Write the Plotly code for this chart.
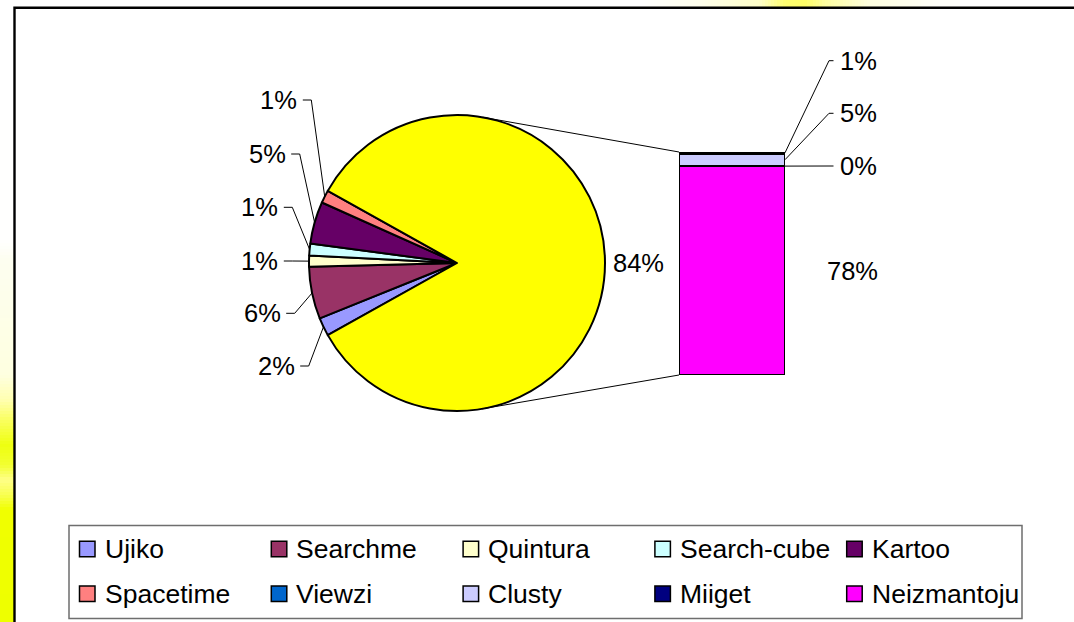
import math
import plotly.graph_objects as go

# ---------------- data (percent of all answers) ----------------
pie_categories = ["Ujiko", "Searchme", "Quintura", "Search-cube", "Kartoo", "Spacetime"]
pie_values = [2.0, 5.7, 1.2, 1.3, 4.6, 1.4]
bar_categories = ["Viewzi", "Clusty", "Miiget", "Neizmantoju"]
bar_values = [0.6, 4.6, 0.2, 78.4]
other_name = "Other"

pie_colors = ["#9999FF", "#993366", "#FFFFCC", "#CCFFFF", "#660066", "#FF8080"]
bar_colors = ["#0066CC", "#CCCCFF", "#000080", "#FF00FF"]
other_color = "#FFFF00"

# ---------------- layout geometry (pixels) ----------------
W, H = 1074, 622
CX, CY, R = 457.0, 263.0, 148.0
BAR_X0, BAR_X1, BAR_TOP, BAR_BOTTOM = 679.0, 785.0, 152.0, 375.0
FONT = "Liberation Sans, Arial, sans-serif"
LABEL_SIZE = 25.5
LEGEND_SIZE = 26.5

# label anchors (right edge x, centre y) for pie slices, in pie order
PIE_LABEL_POS = [(295.7, 366.0), (281.7, 313.3), (279.3, 261.0),
                 (279.3, 207.3), (286.7, 154.0), (298.3, 100.0)]
# label anchors (left x, centre y) for the small bar segments (Viewzi, Clusty, Miiget)
BAR_LABEL_X = 838.5
BAR_LABEL_Y = [60.7, 113.3, 166.0]


def px(x):
    return x / W


def py(y):
    return 1 - y / H


def pct(v, tot):
    return f"{int(math.floor(v / tot * 100 + 0.5))}%"


total = sum(pie_values) + sum(bar_values)
other_value = sum(bar_values)
small_frac = sum(pie_values) / total

fig = go.Figure()

# ---------------- pie ----------------
fig.add_trace(go.Pie(
    values=pie_values + [other_value],
    labels=pie_categories + [other_name],
    sort=False,
    direction="clockwise",
    rotation=-90 - small_frac * 180,
    marker=dict(colors=pie_colors + [other_color], line=dict(color="black", width=2)),
    textinfo="none",
    hoverinfo="skip",
    showlegend=False,
    domain=dict(x=[px(CX - R), px(CX + R)], y=[py(CY + R), py(CY - R)]),
))

# ---------------- stacked bar (bottom segment first) ----------------
bar_total = sum(bar_values)
for name, val, col in reversed(list(zip(bar_categories, bar_values, bar_colors))):
    fig.add_trace(go.Bar(
        x=[0], y=[val], width=[1], name=name,
        marker=dict(color=col, line=dict(color="black", width=2)),
        hoverinfo="skip", showlegend=False,
    ))

shapes = []
annotations = []


def lerp_color(stops, t):
    for (a, ca), (b, cb) in zip(stops[:-1], stops[1:]):
        if a <= t <= b:
            f = 0 if b == a else (t - a) / (b - a)
            c1 = [int(ca[i:i + 2], 16) for i in (1, 3, 5)]
            c2 = [int(cb[i:i + 2], 16) for i in (1, 3, 5)]
            c = [round(c1[k] + (c2[k] - c1[k]) * f) for k in range(3)]
            return "rgb(%d,%d,%d)" % tuple(c)
    return stops[-1][1]


# background glow outside the chart frame
left_stops = [(0, "#FFFFFF"), (240, "#FFFFFE"), (260, "#FDFEF0"), (375, "#FEFFE0"),
              (400, "#FFFFB0"), (420, "#FAFF60"), (445, "#EEFF10"), (465, "#F2FF30"),
              (480, "#FFFF88"), (495, "#F8FF50"), (510, "#F0FF00"), (622, "#EEFF00")]
step = 3
for y in range(0, H, step):
    shapes.append(dict(type="rect", xref="paper", yref="paper", layer="below",
                       x0=px(0), x1=px(14), y0=py(y), y1=py(y + step),
                       fillcolor=lerp_color(left_stops, y + step / 2), line=dict(width=0)))
top_stops = [(0, "#FFFFFF"), (640, "#FFFFFF"), (700, "#FFFFEC"), (760, "#FFFFC8"),
             (785, "#FFFF70"), (805, "#FFFF66"), (825, "#FFFFA0"), (870, "#FFFFE0"),
             (940, "#FFFFFA"), (1074, "#FFFFFF")]
for x in range(600, 960, step):
    shapes.append(dict(type="rect", xref="paper", yref="paper", layer="below",
                       x0=px(x), x1=px(x + step), y0=py(0), y1=py(7),
                       fillcolor=lerp_color(top_stops, x + step / 2), line=dict(width=0)))

# chart frame
shapes.append(dict(type="rect", xref="paper", yref="paper", layer="below",
                   x0=px(14.5), y0=py(7.7), x1=px(W + 20), y1=py(H + 20),
                   fillcolor="white", line=dict(color="black", width=2.4)))


def seg(x0, y0, x1, y1, width=1.0, color="black"):
    shapes.append(dict(type="line", xref="paper", yref="paper",
                       x0=px(x0), y0=py(y0), x1=px(x1), y1=py(y1),
                       line=dict(color=color, width=width)))


# ---------------- pie labels with leader lines ----------------
theta = 180 + small_frac * 180  # start angle (deg, ccw from +x), slices run clockwise
for v, (rx, ly) in zip(pie_values, PIE_LABEL_POS):
    span = v / total * 360
    mid = math.radians(theta - span / 2)
    theta -= span
    ex, ey = CX + R * math.cos(mid), CY - R * math.sin(mid)
    seg(rx + 4.5, ly, rx + 13, ly)
    seg(rx + 13, ly, ex, ey)
    annotations.append(dict(x=px(rx), y=py(ly), xref="paper", yref="paper", text=pct(v, total),
                            showarrow=False, xanchor="right", yanchor="middle", borderpad=0,
                            font=dict(family=FONT, size=LABEL_SIZE, color="black")))

# "Other" slice label (slice centred on 3 o'clock)
other_mid = math.radians(theta - (other_value / total * 360) / 2)
annotations.append(dict(x=px(CX + R * math.cos(other_mid) + 7), y=py(CY - R * math.sin(other_mid)),
                        xref="paper", yref="paper", text=pct(other_value, total), showarrow=False,
                        xanchor="left", yanchor="middle", borderpad=0,
                        font=dict(family=FONT, size=LABEL_SIZE, color="black")))


# ---------------- bar labels ----------------
def bar_y(cum):
    return BAR_BOTTOM - cum / bar_total * (BAR_BOTTOM - BAR_TOP)


cum_top = bar_total
seg_mids = []
for v in bar_values:  # top to bottom
    seg_mids.append(bar_y(cum_top - v / 2))
    cum_top -= v

for v, mid_y, ly in zip(bar_values[:3], seg_mids[:3], BAR_LABEL_Y):
    seg(BAR_X1, mid_y, BAR_LABEL_X - 9.5, ly)
    seg(BAR_LABEL_X - 9.5, ly, BAR_LABEL_X - 5, ly)
    annotations.append(dict(x=px(BAR_LABEL_X), y=py(ly), xref="paper", yref="paper", text=pct(v, total),
                            showarrow=False, xanchor="left", yanchor="middle", borderpad=0,
                            font=dict(family=FONT, size=LABEL_SIZE, color="black")))
annotations.append(dict(x=px(826), y=py(seg_mids[3]), xref="paper", yref="paper",
                        text=pct(bar_values[3], total), showarrow=False, xanchor="left",
                        yanchor="middle", borderpad=0,
                        font=dict(family=FONT, size=LABEL_SIZE, color="black")))

# ---------------- connector lines: tangents from bar corners to pie ----------------
for (bx, by), sign in (((BAR_X0, BAR_TOP), -1), ((BAR_X0, BAR_BOTTOM), 1)):
    dx, dy = bx - CX, by - CY
    d = math.hypot(dx, dy)
    phi = math.atan2(dy, dx)
    alpha = math.acos(R / d)
    ang = phi + sign * alpha
    seg(CX + R * math.cos(ang), CY + R * math.sin(ang), bx, by, width=1)

# ---------------- legend (manual grid, 5 x 2) ----------------
LEG_X0, LEG_Y0, LEG_X1, LEG_Y1 = 69, 525.5, 1022, 618.5
shapes.append(dict(type="rect", xref="paper", yref="paper",
                   x0=px(LEG_X0), y0=py(LEG_Y0), x1=px(LEG_X1), y1=py(LEG_Y1),
                   fillcolor="white", line=dict(color="#6E6E6E", width=1.5), layer="below"))
legend_names = pie_categories + bar_categories
legend_colors = pie_colors + bar_colors
COL_X0, COL_DX = 79.5, 191.8
ROW_Y = [549.0, 593.7]
MK = 15.5
for i, (name, col) in enumerate(zip(legend_names, legend_colors)):
    r, c = divmod(i, 5)
    mx, my = COL_X0 + c * COL_DX, ROW_Y[r]
    shapes.append(dict(type="rect", xref="paper", yref="paper",
                       x0=px(mx), y0=py(my - MK / 2), x1=px(mx + MK), y1=py(my + MK / 2),
                       fillcolor=col, line=dict(color="black", width=1.5)))
    annotations.append(dict(x=px(mx + 24), y=py(my), xref="paper", yref="paper", text=name,
                            showarrow=False, xanchor="left", yanchor="middle", borderpad=0,
                            font=dict(family=FONT, size=LEGEND_SIZE, color="black")))

fig.update_layout(
    width=W, height=H,
    margin=dict(l=0, r=0, t=0, b=0),
    paper_bgcolor="white",
    plot_bgcolor="rgba(0,0,0,0)",
    barmode="stack",
    bargap=0,
    xaxis=dict(domain=[px(BAR_X0), px(BAR_X1)], range=[-0.5, 0.5], visible=False, fixedrange=True),
    yaxis=dict(domain=[py(BAR_BOTTOM), py(BAR_TOP)], range=[0, bar_total], visible=False, fixedrange=True),
    shapes=shapes,
    annotations=annotations,
    showlegend=False,
)

fig.write_html("out.html", config={"displayModeBar": False},
               post_script="document.body.style.margin='0px';")
